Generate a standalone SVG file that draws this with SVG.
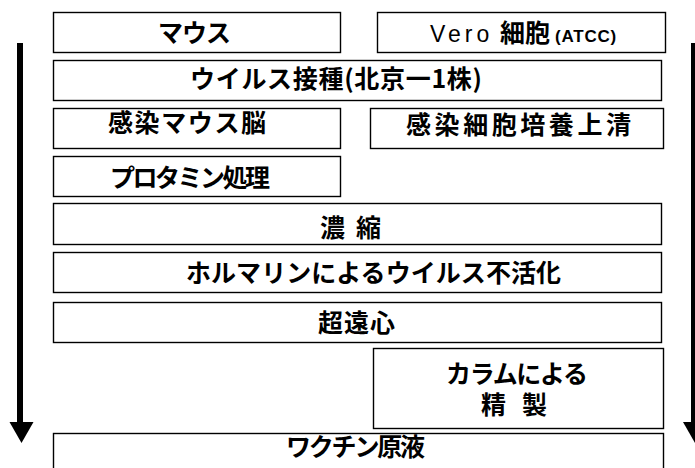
<svg xmlns="http://www.w3.org/2000/svg" width="695" height="468" viewBox="0 0 695 468">
<style>
.box{fill:#fff;stroke:#000;stroke-width:1.4}
.t{font-family:"Noto Sans CJK JP","Noto Sans CJK SC",sans-serif;font-size:25px;font-weight:700;fill:#000}
.lat{font-family:"Liberation Sans",Arial,sans-serif;fill:#000}
.arr{fill:#000}
</style>
<rect width="695" height="468" fill="#fff"/>
<g id="connectors">
<rect class="arr" x="17" y="43" width="6" height="380"/>
<polygon class="arr" points="9.5,422 33.5,422 21.5,443"/>
<rect class="arr" x="691" y="43" width="6" height="380"/>
<polygon class="arr" points="683,422 707,422 695,443"/>
</g>
<g id="n-mouse">
<rect class="box" x="53.5" y="12.5" width="287" height="40"/>
<text class="t" x="158" y="42" textLength="73" lengthAdjust="spacing">マウス</text>
</g>
<g id="n-vero">
<rect class="box" x="377.5" y="12.5" width="288" height="40"/>
<text><tspan class="lat" x="430" y="42" font-size="23" letter-spacing="4">Vero </tspan><tspan class="t" x="500" y="42" font-size="24">細胞 </tspan><tspan class="lat" x="555" y="42" font-size="17" font-weight="700" letter-spacing="0.8">(ATCC)</tspan></text>
</g>
<g id="n-inoc">
<rect class="box" x="53.5" y="60.5" width="608" height="40"/>
<text class="t" x="190" y="88" textLength="292" lengthAdjust="spacing">ウイルス接種(北京一1株)</text>
</g>
<g id="n-brain">
<rect class="box" x="53.5" y="108.5" width="287" height="40"/>
<text class="t" x="108" y="132" textLength="158" lengthAdjust="spacing">感染マウス脳</text>
</g>
<g id="n-super">
<rect class="box" x="370.5" y="108.5" width="293" height="40"/>
<text class="t" x="406" y="134" textLength="225" lengthAdjust="spacing">感染細胞培養上清</text>
</g>
<g id="n-protamine">
<rect class="box" x="53.5" y="156.5" width="287" height="40"/>
<text class="t" x="110" y="187" textLength="160" lengthAdjust="spacing">プロタミン処理</text>
</g>
<g id="n-conc">
<rect class="box" x="53.5" y="203.5" width="608" height="41"/>
<text class="t" x="320" y="237">濃 <tspan x="356">縮</tspan></text>
</g>
<g id="n-formalin">
<rect class="box" x="53.5" y="252.5" width="608" height="40"/>
<text class="t" x="186" y="282" textLength="375" lengthAdjust="spacing">ホルマリンによるウイルス不活化</text>
</g>
<g id="n-ultra">
<rect class="box" x="53.5" y="302.5" width="608" height="40"/>
<text class="t" x="318" y="332" textLength="77" lengthAdjust="spacing">超遠心</text>
</g>
<g id="n-column">
<rect class="box" x="373.5" y="348.5" width="290" height="80"/>
<text class="t" x="446" y="383" textLength="142" lengthAdjust="spacing">カラムによる</text>
<text class="t" x="481" y="414" textLength="66" lengthAdjust="spacing">精製</text>
</g>
<g id="n-bulk">
<rect class="box" x="53.5" y="433.5" width="610" height="50"/>
<text class="t" x="286" y="456" textLength="139" lengthAdjust="spacing">ワクチン原液</text>
</g>
</svg>
